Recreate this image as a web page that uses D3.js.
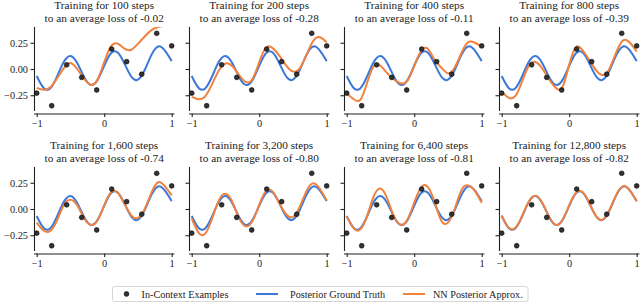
<!DOCTYPE html>
<html>
<head>
<meta charset="utf-8">
<script src="https://cdn.jsdelivr.net/npm/d3@7"></script>
<style>
	body { margin: 0; background: #fff; }
	svg { display: block; font-family: "Liberation Serif", "DejaVu Serif", serif; }
</style>
</head>
<body>
<div id="chart"></div>
<script>
// Panel titles
var steps = ["100", "200", "400", "800", "1,600", "3,200", "6,400", "12,800"];
var losses = ["-0.02", "-0.28", "-0.11", "-0.39", "-0.74", "-0.80", "-0.81", "-0.82"];

// In-context examples (same in every panel)
var exampleX = [-1, -0.778, -0.556, -0.333, -0.111, 0.111, 0.333, 0.556, 0.778, 1];
var exampleY = [-0.23, -0.35, 0.04, -0.08, -0.20, 0.19, 0.07, -0.05, 0.34, 0.22];

// Curve sample positions
var gridX = [-1, -0.9, -0.8, -0.7, -0.6, -0.5, -0.4, -0.3, -0.2, -0.1, 0, 0.1, 0.2, 0.3, 0.4, 0.5, 0.6, 0.7, 0.8, 0.9, 1];

// Posterior ground truth
var truthY = [-0.067, -0.179, -0.185, -0.074, 0.066, 0.124, 0.057, -0.073, -0.151, -0.106, 0.031, 0.150, 0.157, 0.052, -0.071, -0.102, -0.010, 0.134, 0.215, 0.175, 0.075];

// NN posterior approximation after each training length
var approx100 = [-0.18, -0.198, -0.175, -0.091, 0.006, 0.058, 0.0, -0.09, -0.15, -0.102, 0.064, 0.216, 0.241, 0.194, 0.183, 0.24, 0.31, 0.37, 0.40, 0.41, 0.41];
var approx200 = [-0.266, -0.288, -0.26, -0.147, -0.017, 0.053, 0.028, -0.055, -0.123, -0.096, 0.065, 0.203, 0.199, 0.125, 0.033, -0.023, 0.005, 0.134, 0.267, 0.303, 0.255];
var approx400 = [-0.234, -0.285, -0.295, -0.138, 0.026, 0.03, -0.04, -0.10, -0.136, -0.111, 0.03, 0.171, 0.192, 0.09, 0.014, -0.04, 0.015, 0.153, 0.256, 0.25, 0.215];
var approx800 = [-0.218, -0.272, -0.259, -0.122, 0.03, 0.066, 0.005, -0.097, -0.178, -0.174, 0.041, 0.208, 0.177, 0.084, -0.013, -0.058, 0.008, 0.163, 0.273, 0.25, 0.167];
var approx1600 = [-0.13, -0.205, -0.21, -0.11, 0.035, 0.088, 0.035, -0.085, -0.15, -0.11, 0.035, 0.16, 0.155, 0.05, -0.06, -0.085, 0.0, 0.155, 0.255, 0.215, 0.13];
var approx3200 = [-0.09, -0.225, -0.235, -0.095, 0.08, 0.145, 0.07, -0.085, -0.165, -0.115, 0.04, 0.17, 0.165, 0.055, -0.05, -0.075, 0.02, 0.17, 0.245, 0.19, 0.08];
var approx6400 = [-0.07, -0.18, -0.195, -0.07, 0.12, 0.195, 0.10, -0.07, -0.15, -0.10, 0.06, 0.205, 0.21, 0.07, -0.11, -0.13, 0.0, 0.18, 0.225, 0.17, 0.06];
var approx12800 = [-0.06, -0.175, -0.18, -0.07, 0.07, 0.125, 0.06, -0.07, -0.15, -0.105, 0.035, 0.155, 0.16, 0.055, -0.07, -0.10, -0.005, 0.138, 0.218, 0.175, 0.075];
var approxAll = [approx100, approx200, approx400, approx800, approx1600, approx3200, approx6400, approx12800];

// Ticks
var xTicks = [-1, 0, 1];
var yTicks = [-0.25, 0, 0.25];

var legendNames = ["In-Context Examples", "Posterior Ground Truth", "NN Posterior Approx."];

var width = 640, height = 305;
var blue = "#3c78d8", orange = "#f0823e", dotFill = "#333333";
var colStep = 155, rowTop = [27, 167];
var plotW = 140.4, plotH = 84;
var minus = function(s) { return s.replace("-", "\u2212"); };

var svg = d3.select("#chart").append("svg")
		.attr("width", width)
		.attr("height", height);

var x = d3.scaleLinear().domain([-1.04, 1.04]).range([0, plotW]);
var y = d3.scaleLinear().domain([-0.4, 0.4]).range([plotH, 0]);

var line = d3.line()
		.x(function(d) { return x(d[0]); })
		.y(function(d) { return y(d[1]); })
		.curve(d3.curveNatural);

var yFormat = d3.format(".2f");

approxAll.forEach(function(approx, i) {
	var col = i % 4, row = Math.floor(i / 4);
	var g = svg.append("g")
			.attr("transform", "translate(" + (34 + col * colStep) + "," + rowTop[row] + ")");

	g.append("defs").append("clipPath")
			.attr("id", "clip" + i)
		.append("rect")
			.attr("width", plotW)
			.attr("height", plotH);

	// Title
	var title = g.append("text")
			.attr("x", x(0))
			.attr("text-anchor", "middle")
			.style("font-size", "11.3px")
			.attr("fill", "#222");
	title.append("tspan").attr("x", x(0)).attr("y", -18).text("Training for " + steps[i] + " steps");
	title.append("tspan").attr("x", x(0)).attr("y", -5.5).text("to an average loss of " + losses[i]);

	// Left spine (labels only on the first column, the y axis is shared)
	var yAxis = g.append("g")
			.call(d3.axisLeft(y).tickValues(yTicks).tickSize(3.5).tickPadding(2.5)
				.tickFormat(function(d) { return col === 0 ? minus(yFormat(d)) : ""; }));
	yAxis.select(".domain").attr("d", "M0.5," + y(0.4) + "V" + y(-0.4));

	// Bottom spine, offset a little
	var xAxis = g.append("g")
			.attr("transform", "translate(0," + (plotH + 2.5) + ")")
			.call(d3.axisBottom(x).tickValues(xTicks).tickSize(3.5).tickPadding(3)
				.tickFormat(function(d) { return minus(String(d)); }));
	xAxis.select(".domain").attr("d", "M0,0.5H" + plotW);

	[xAxis, yAxis].forEach(function(a) {
		a.selectAll("text").style("font-size", "10.3px").style("font-family", "Liberation Serif").attr("fill", "#222");
		a.selectAll("line, path").attr("stroke", "#222").attr("stroke-width", 1.1);
	});

	var body = g.append("g").attr("clip-path", "url(#clip" + i + ")");

	body.append("path")
			.datum(d3.zip(gridX, truthY))
			.attr("fill", "none")
			.attr("stroke", blue)
			.attr("stroke-width", 2)
			.attr("d", line);

	body.append("path")
			.datum(d3.zip(gridX, approx))
			.attr("fill", "none")
			.attr("stroke", orange)
			.attr("stroke-width", 2)
			.attr("d", line);

	g.selectAll(".dot")
		.data(d3.zip(exampleX, exampleY))
		.enter().append("circle")
			.attr("class", "dot")
			.attr("cx", function(d) { return x(d[0]); })
			.attr("cy", function(d) { return y(d[1]); })
			.attr("r", 2.4)
			.attr("fill", dotFill)
			.attr("stroke", "#000")
			.attr("stroke-width", 0.6);
});

// Legend
var legend = svg.append("g").attr("transform", "translate(112.5,286.5)");
legend.append("rect")
		.attr("width", 415.5)
		.attr("height", 15)
		.attr("rx", 2)
		.attr("fill", "#fff")
		.attr("stroke", "#ccc")
		.attr("stroke-width", 0.8);

var itemX = [14, 143.5, 290.5];
var textX = [29, 177.5, 320.5];
legendNames.forEach(function(name, i) {
	var item = legend.append("g");
	if (i === 0) {
		item.append("circle")
				.attr("cx", itemX[i])
				.attr("cy", 7.5)
				.attr("r", 2.4)
				.attr("fill", dotFill)
				.attr("stroke", "#000")
				.attr("stroke-width", 0.6);
	} else {
		item.append("line")
				.attr("x1", itemX[i])
				.attr("x2", itemX[i] + 22)
				.attr("y1", 7.5)
				.attr("y2", 7.5)
				.attr("stroke", i === 1 ? blue : orange)
				.attr("stroke-width", 2);
	}
	item.append("text")
			.attr("x", textX[i])
			.attr("y", 11)
			.style("font-size", "10.2px")
			.attr("fill", "#222")
			.text(name);
});
</script>
</body>
</html>
